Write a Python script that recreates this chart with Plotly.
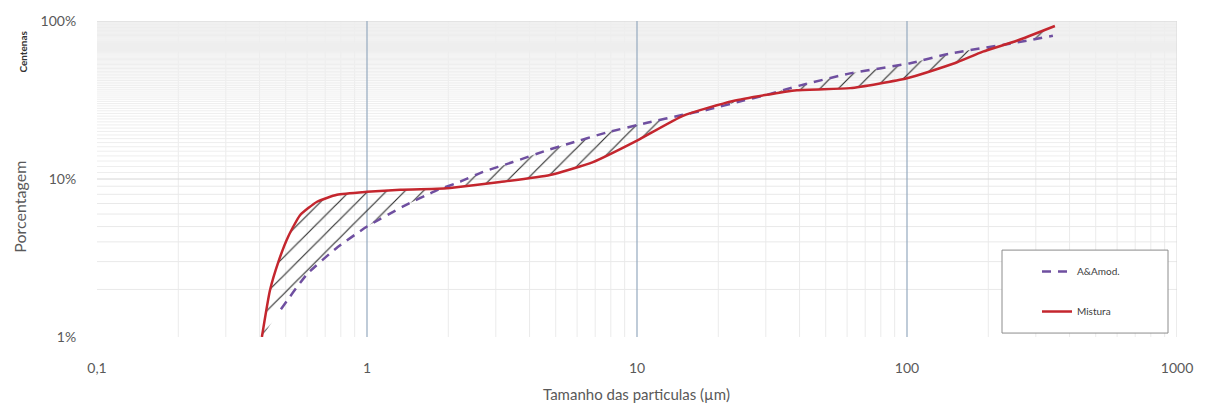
import plotly.graph_objects as go

# --- data ---
amod_x = [0.48, 0.60, 0.77, 1.0, 1.36, 1.82, 2.21, 2.69, 3.47, 4.64, 5.5, 7.74, 10.9, 14.8, 18.2, 25.0, 30.0, 40.0, 61.5, 102, 144, 240, 347]
amod_y = [1.5, 2.5, 3.65, 5.0, 6.7, 8.5, 9.6, 11.1, 12.8, 15.2, 16.6, 19.7, 22.7, 25.5, 27.4, 31.5, 34.0, 39.0, 46.6, 53.9, 62.2, 71.8, 80.6]

mist_x = [0.408, 0.437, 0.47, 0.51, 0.565, 0.653, 0.774, 1.0, 1.33, 1.82, 2.03, 3.11, 4.76, 6.87, 10.0, 14.8, 22.7, 39.1, 61.5, 100, 150, 191, 255, 353]
mist_y = [1.0, 1.97, 3.0, 4.3, 5.9, 7.18, 7.94, 8.29, 8.55, 8.66, 8.77, 9.57, 10.6, 12.8, 17.5, 25.1, 31.2, 36.5, 37.6, 43.4, 54.0, 64.0, 75.0, 93.0]

x_tick_vals = [0.1, 1, 10, 100, 1000]
x_tick_text = ["0,1", "1", "10", "100", "1000"]
y_tick_vals = [1, 10, 100]
y_tick_text = ["1%", "10%", "100%"]

series_names = ["A&Amod.", "Mistura"]

fig = go.Figure()

fig.add_trace(go.Scatter(
    x=amod_x, y=amod_y, name=series_names[0], mode="lines",
    line=dict(color="#6f4fa0", width=2.5, dash="9px,7px", shape="spline", smoothing=0.5),
    legendgroup="a",
))
# hatched area between the two curves
fig.add_trace(go.Scatter(
    x=mist_x, y=mist_y, name="area", mode="lines", showlegend=False, hoverinfo="skip",
    line=dict(color="rgba(0,0,0,0)", width=0, shape="spline", smoothing=0.5),
    fill="tonexty", fillcolor="rgba(0,0,0,0)",
    fillpattern=dict(shape="/", fgcolor="#2f2f2f", fgopacity=1, bgcolor="rgba(0,0,0,0)",
                     size=13, solidity=0.09),
))
fig.add_trace(go.Scatter(
    x=mist_x, y=mist_y, name=series_names[1], mode="lines",
    line=dict(color="#c4262e", width=2.5, shape="spline", smoothing=0.5),
    legendgroup="b",
))

shapes = []
# minor vertical grid
for n in range(-1, 3):
    for k in range(2, 10):
        v = k * 10 ** n
        shapes.append(dict(type="line", xref="x", yref="paper", x0=v, x1=v, y0=0, y1=1,
                           line=dict(color="#ebebeb", width=1), layer="below"))
# minor horizontal grid
for k in range(2, 10):
    shapes.append(dict(type="line", xref="paper", yref="y", x0=0, x1=1, y0=k, y1=k,
                       line=dict(color="#e9e9e9", width=1), layer="below"))
for k in range(11, 100):
    shapes.append(dict(type="line", xref="paper", yref="y", x0=0, x1=1, y0=k, y1=k,
                       line=dict(color="#eeeeee", width=1), layer="below"))
# major horizontal
for v in [10, 100]:
    shapes.append(dict(type="line", xref="paper", yref="y", x0=0, x1=1, y0=v, y1=v,
                       line=dict(color="#d6d6d6", width=1), layer="below"))
# major vertical
for v in [1, 10, 100]:
    shapes.append(dict(type="line", xref="x", yref="paper", x0=v, x1=v, y0=0, y1=1,
                       line=dict(color="#94a9bf", width=1.2), layer="below"))
shapes.append(dict(type="line", xref="x", yref="paper", x0=1000, x1=1000, y0=0, y1=1,
                   line=dict(color="#d9d9d9", width=1), layer="below"))
# legend box
shapes.append(dict(type="rect", xref="paper", yref="paper",
                   x0=(1002 - 97) / 1080, x1=(1168 - 97) / 1080,
                   y0=(337 - 333) / 320, y1=(337 - 249) / 320,
                   line=dict(color="#8c8c8c", width=1), fillcolor="white", layer="above"))

fig.update_layout(
    width=1208, height=407,
    margin=dict(l=97, r=31, t=17, b=70),
    plot_bgcolor="white", paper_bgcolor="white",
    font=dict(family="Lato, Liberation Sans, sans-serif", color="#595959", size=14),
    shapes=shapes,
    showlegend=True,
    legend=dict(x=(1037 - 97) / 1080, y=(337 - 256) / 320, xanchor="left", yanchor="top",
                bgcolor="rgba(0,0,0,0)", borderwidth=0, font=dict(size=10, color="#404040"),
                traceorder="grouped", tracegroupgap=21, itemwidth=30),
    xaxis=dict(type="log", range=[-1, 3], tickvals=x_tick_vals, ticktext=x_tick_text,
               showgrid=False, zeroline=False, showline=False,
               ticks="outside", ticklen=18, tickcolor="rgba(0,0,0,0)"),
    yaxis=dict(type="log", range=[0, 2], tickvals=y_tick_vals, ticktext=y_tick_text,
               showgrid=False, zeroline=False, showline=False,
               ticks="outside", ticklen=17, tickcolor="rgba(0,0,0,0)"),
    annotations=[
        dict(text="Porcentagem", xref="paper", yref="paper", x=(20 - 97) / 1080, y=(337 - 205) / 320,
             textangle=-90, showarrow=False, font=dict(size=16, color="#595959"),
             xanchor="center", yanchor="middle"),
        dict(text="<b>Centenas</b>", xref="paper", yref="paper", x=(23 - 97) / 1080, y=(337 - 48) / 320,
             textangle=-90, showarrow=False, font=dict(size=10, color="#333333"),
             xanchor="center", yanchor="middle"),
        dict(text="Tamanho das particulas (µm)", xref="paper", yref="paper", x=(636 - 97) / 1080,
             y=(337 - 395) / 320, showarrow=False, font=dict(size=15, color="#595959"),
             xanchor="center", yanchor="middle"),
    ],
)

fig.write_html("out.html")
